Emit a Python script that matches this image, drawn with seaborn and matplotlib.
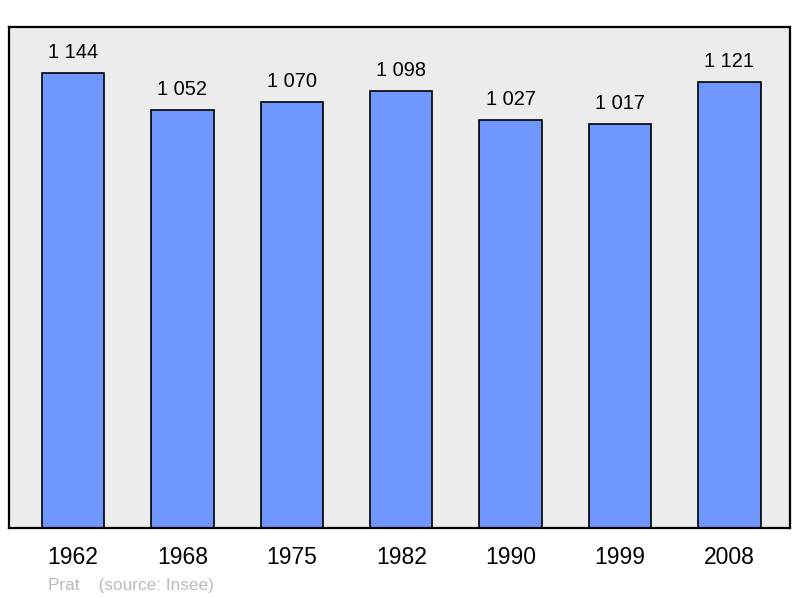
import matplotlib
matplotlib.use("Agg")
import matplotlib.pyplot as plt
import pandas as pd
import seaborn as sns

# data
years = ["1962", "1968", "1975", "1982", "1990", "1999", "2008"]
population = [1144, 1052, 1070, 1098, 1027, 1017, 1121]

df = pd.DataFrame({"year": years, "pop": population})

sns.set_style("white")
plt.rcParams["font.family"] = ["Liberation Sans", "DejaVu Sans"]
plt.rcParams["text.color"] = "black"
plt.rcParams["xtick.color"] = "black"

fig = plt.figure(figsize=(8, 5.98), dpi=100)
ax = fig.add_axes([0.01125, 0.117, 0.97625, 0.838])
ax.set_facecolor("#ececec")

sns.barplot(data=df, x="year", y="pop", color="#7096ff", saturation=1,
            edgecolor="black", linewidth=1.2, width=0.57, ax=ax)

labels = [f"{v:,}".replace(",", " ") for v in population]
ax.bar_label(ax.containers[0], labels=labels, padding=8, fontsize=14.4, color="black")

ax.set_xlim(-0.585, 6.553)
ax.set_ylim(10, 1258)
ax.set_yticks([])
ax.set_xlabel("")
ax.set_ylabel("")
ax.tick_params(axis="x", length=0, labelsize=16.5, pad=13, labelcolor="black")
for s in ax.spines.values():
    s.set_linewidth(1.6)
    s.set_color("black")

fig.text(0.06, 0.013, "Prat    (source: Insee)", color="#bbbbbb", fontsize=12.4)

fig.savefig("out.png", dpi=100)
